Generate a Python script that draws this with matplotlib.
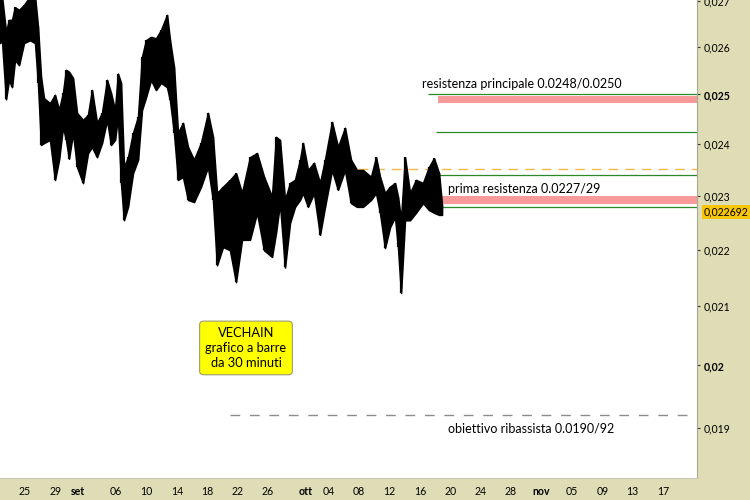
import matplotlib
matplotlib.use("Agg")
import matplotlib.pyplot as plt
from matplotlib.ticker import FixedLocator, FixedFormatter, NullLocator
from matplotlib.transforms import blended_transform_factory

plt.rcParams['font.family'] = ['Lato', 'DejaVu Sans']

# ---- data: 30-minute bars envelope, days since 25 Aug ----
days = [-3.29, -3.03, -2.50, -2.11, -1.71, -1.32, -0.79, -0.13, 0.66, 1.32, 1.71, 2.11,
        2.50, 3.29, 3.95, 4.48, 5.00, 5.40, 5.79, 6.32, 6.85, 7.64, 8.29, 8.82, 9.48,
        10.14, 10.80, 11.32, 11.85, 12.24, 12.64, 13.03, 13.56, 14.22, 14.88, 15.40,
        15.93, 16.59, 17.25, 17.91, 18.70, 19.09, 19.62, 20.14, 20.80, 21.46, 22.25,
        23.17, 24.09, 24.75, 25.28, 26.07, 26.99, 27.78, 28.57, 29.62, 30.55, 31.47,
        32.52, 33.05, 33.57, 34.23, 34.89, 35.55, 36.21, 36.60, 37.26, 38.05, 38.84,
        39.50, 40.42, 41.21, 42.13, 42.92, 43.71, 44.50, 45.56, 46.22, 46.74, 47.40,
        48.06, 48.72, 49.11, 49.51, 50.03, 50.69, 51.48, 52.40, 53.19, 53.85, 54.51, 54.90]
highs = [0.02720, 0.02710, 0.02632, 0.02658, 0.02658, 0.02686, 0.02680, 0.02691, 0.02710,
         0.02710, 0.02643, 0.02536, 0.02492, 0.02482, 0.02499, 0.02468, 0.02503, 0.02551,
         0.02547, 0.02534, 0.02462, 0.02448, 0.02458, 0.02509, 0.02442, 0.02462, 0.02530,
         0.02503, 0.02468, 0.02543, 0.02524, 0.02355, 0.02374, 0.02422, 0.02454, 0.02578,
         0.02614, 0.02621, 0.02618, 0.02636, 0.02669, 0.02614, 0.02557, 0.02422, 0.02442,
         0.02394, 0.02369, 0.02402, 0.02462, 0.02414, 0.02305, 0.02317, 0.02330, 0.02343,
         0.02305, 0.02374, 0.02382, 0.02336, 0.02298, 0.02414, 0.02408, 0.02292, 0.02324,
         0.02330, 0.02369, 0.02402, 0.02349, 0.02363, 0.02324, 0.02369, 0.02444, 0.02394,
         0.02432, 0.02369, 0.02349, 0.02349, 0.02336, 0.02374, 0.02336, 0.02305, 0.02317,
         0.02324, 0.02298, 0.02254, 0.02374, 0.02305, 0.02330, 0.02324, 0.02355, 0.02372,
         0.02343, 0.02283]
lows = [0.02608, 0.02614, 0.02490, 0.02530, 0.02515, 0.02572, 0.02561, 0.02608, 0.02614,
        0.02608, 0.02524, 0.02398, 0.02402, 0.02408, 0.02330, 0.02369, 0.02434, 0.02408,
        0.02371, 0.02422, 0.02355, 0.02324, 0.02382, 0.02394, 0.02374, 0.02402, 0.02448,
        0.02398, 0.02408, 0.02454, 0.02324, 0.02254, 0.02279, 0.02343, 0.02369, 0.02468,
        0.02494, 0.02530, 0.02509, 0.02524, 0.02515, 0.02488, 0.02422, 0.02330, 0.02336,
        0.02292, 0.02288, 0.02317, 0.02355, 0.02292, 0.02172, 0.02205, 0.02199, 0.02142,
        0.02218, 0.02218, 0.02268, 0.02199, 0.02187, 0.02231, 0.02286, 0.02168, 0.02249,
        0.02279, 0.02292, 0.02305, 0.02279, 0.02305, 0.02227, 0.02279, 0.02349, 0.02311,
        0.02349, 0.02286, 0.02279, 0.02279, 0.02292, 0.02305, 0.02268, 0.02203, 0.02241,
        0.02260, 0.02205, 0.02123, 0.02254, 0.02254, 0.02268, 0.02286, 0.02273, 0.02268,
        0.02264, 0.02264]
last_price = 0.022692

# ---- levels ----
res_main_lines = [0.02500, 0.02424]
res_main_band = (0.02482, 0.02497)
res_first_lines = [0.02340, 0.02279]
res_first_band = (0.02284, 0.02299)
orange_level = 0.02352
target_level = 0.01920

# ---- axes ticks ----
xtick_days = [0, 4, 7, 12, 16, 20, 24, 28, 32, 37, 40, 44, 48, 52, 56, 60, 64, 68, 72, 76, 80, 84]
xtick_labels = ['25', '29', 'set', '06', '10', '14', '18', '22', '26', 'ott', '04', '08',
                '12', '16', '20', '24', '28', 'nov', '05', '09', '13', '17']
ytick_vals = [0.019, 0.020, 0.021, 0.022, 0.023, 0.024, 0.025, 0.026, 0.027]
ytick_labels = ['0,019', '0,02', '0,021', '0,022', '0,023', '0,024', '0,025', '0,026', '0,027']

panel = '#DFDDB6'
fig = plt.figure(figsize=(7.5, 5), dpi=100, facecolor=panel)
ax = fig.add_axes([0, 22 / 500, 697 / 750, 478 / 500])
ax.set_facecolor('white')
ax.set_yscale('log')
ax.set_xlim(-3.29, 88.48)
ax.set_ylim(0.01823, 0.02702)

# bars
ax.fill_between(days, lows, highs, color='black', linewidth=1.2, edgecolor='black', zorder=3)
ax.vlines(days, lows, highs, color='black', linewidth=1.6, zorder=3)

xmax = 88.48
green = '#2A8A2A'
pink = '#F99A9A'
# main resistance
ax.hlines(res_main_lines[0], 53.06, xmax, color=green, lw=0.9, zorder=2)
ax.fill_between([54.38, xmax], res_main_band[0], res_main_band[1], color=pink, lw=0, zorder=1)
ax.hlines(res_main_lines[1], 54.10, xmax, color=green, lw=0.9, zorder=2)
# orange dashed
ax.hlines(orange_level, 43.84, xmax, color='#F2B84B', lw=1.0, linestyles=(0, (7, 5)), zorder=2)
# first resistance
ax.hlines(res_first_lines[0], 53.06, xmax, color=green, lw=0.9, zorder=2)
ax.fill_between([54.77, xmax], res_first_band[0], res_first_band[1], color=pink, lw=0, zorder=1)
ax.hlines(res_first_lines[1], 53.06, xmax, color=green, lw=0.9, zorder=2)
# target
ax.hlines(target_level, 26.99, xmax, color='#8C8C8C', lw=1.0, linestyles=(0, (7, 7)), zorder=2)

fs = 9.0
ax.text(52.27, 0.02522, 'resistenza principale 0.0248/0.0250', fontsize=fs, va='center', ha='left')
ax.text(55.69, 0.02313, 'prima resistenza 0.0227/29', fontsize=fs, va='center', ha='left')
ax.text(55.69, 0.018982, 'obiettivo ribassista 0.0190/92', fontsize=fs, va='center', ha='left')
ax.text(29.1, 0.02029, 'VECHAIN\ngrafico a barre\nda 30 minuti', fontsize=9.3, ha='center',
        va='center', linespacing=1.3,
        bbox=dict(boxstyle='round,pad=0.45,rounding_size=0.3', facecolor='#FFFF00',
                  edgecolor='#9A9A70', linewidth=0.8))

# axes style
for s in ['top', 'left']:
    ax.spines[s].set_visible(False)
ax.spines['right'].set_color('#A8A89A')
ax.spines['bottom'].set_color('#C8C8B8')

ax.yaxis.tick_right()
ax.yaxis.set_major_locator(FixedLocator(ytick_vals))
ax.yaxis.set_major_formatter(FixedFormatter(ytick_labels))
ax.yaxis.set_minor_locator(NullLocator())
ax.tick_params(axis='y', which='major', length=2.5, width=0.8, pad=2, labelsize=7.6,
               color='#333333', right=True, left=False)
for lab in ax.get_yticklabels():
    if lab.get_text() in ('0,025', '0,02'):
        lab.set_fontweight('bold')

ax.set_xticks(xtick_days)
ax.set_xticklabels(xtick_labels)
ax.tick_params(axis='x', length=0, pad=6, labelsize=7.6)
for lab in ax.get_xticklabels():
    if lab.get_text() in ('set', 'ott', 'nov'):
        lab.set_fontweight('bold')

# last price label
tr = blended_transform_factory(ax.transAxes, ax.transData)
ax.text(1.0095, last_price, '0,022692', transform=tr, fontsize=7.6, va='center', ha='left',
        bbox=dict(boxstyle='square,pad=0.15', facecolor='#F7C50A', edgecolor='none'),
        clip_on=False)

fig.savefig('out.png', dpi=100, facecolor=panel)
